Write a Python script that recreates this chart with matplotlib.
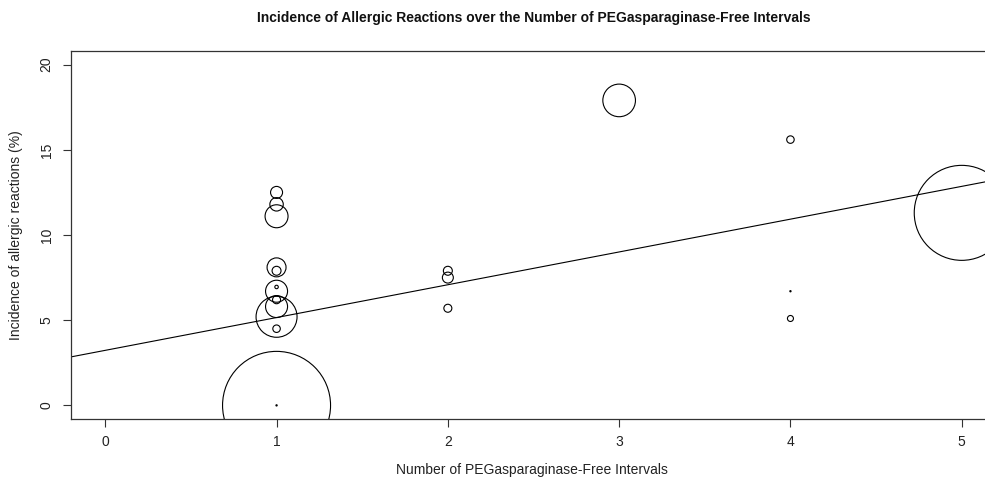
import matplotlib
matplotlib.use("Agg")
import matplotlib.pyplot as plt
import numpy as np

plt.rcParams['font.family'] = ['Liberation Sans', 'DejaVu Sans']

# Data
intervals = [1, 1, 1, 1, 1, 1, 1, 1, 1, 1, 1, 1, 1,
             2, 2, 2,
             3,
             4, 4, 4,
             5]
incidence = [12.5, 11.8, 11.1, 8.1, 7.9, 6.95, 6.7, 6.2, 5.8, 5.2, 4.5, 0.0, 0.0,
             7.9, 7.5, 5.7,
             17.9,
             15.6, 6.7, 5.1,
             11.3]
# bubble weight (study size); circle radius proportional to sqrt(weight)
weight = [36, 45, 132, 90, 20, 3, 121, 16, 121, 420, 14, 2916, 0.4,
          20, 30, 16,
          266,
          14, 0.4, 9,
          2256]
fit_intercept = 3.23
fit_slope = 1.925

xticks = [0, 1, 2, 3, 4, 5]
yticks = [0, 5, 10, 15, 20]

W, H, DPI = 985, 479, 100
fig = plt.figure(figsize=(W / DPI, H / DPI), dpi=DPI)
ax = fig.add_axes([71 / W, (H - 419) / H, 925 / W, 368 / H])

# radius in pixels -> scatter size in points^2
r_px = np.sqrt(np.array(weight, dtype=float))
diam_pt = 2 * r_px * 72.0 / DPI
ax.scatter(intervals, incidence, s=diam_pt ** 2, facecolors='none',
           edgecolors='black', linewidths=0.8, zorder=3)

xs = np.array([-0.2, 5.2])
ax.plot(xs, fit_intercept + fit_slope * xs, color='black', lw=0.8, zorder=2)

ax.set_xlim(-0.2, 5.2)
ax.set_ylim(-0.8, 20.8)
ax.set_xticks(xticks)
ax.set_yticks(yticks)
ax.set_xticklabels([str(v) for v in xticks], fontsize=10)
ax.set_yticklabels([str(v) for v in yticks], fontsize=10, rotation=90, va='center')
ax.tick_params(direction='out', length=5.5, width=0.8, color='#333333', labelcolor='#222222')
ax.tick_params(axis='x', pad=6)
ax.tick_params(axis='y', pad=7)
for s in ax.spines.values():
    s.set_linewidth(0.9)
    s.set_color('#333333')
ax.spines['right'].set_visible(False)

fig.text(534 / W, 1 - 18 / H, 'Incidence of Allergic Reactions over the Number of PEGasparaginase-Free Intervals',
         ha='center', va='center', fontsize=10, fontweight='bold', color='#111111')
fig.text(532 / W, 1 - 470 / H, 'Number of PEGasparaginase-Free Intervals',
         ha='center', va='center', fontsize=10, color='#222222')
fig.text(16 / W, 1 - 235 / H, 'Incidence of allergic reactions (%)',
         ha='center', va='center', rotation=90, fontsize=10, color='#222222')

fig.savefig('out.png', dpi=DPI)
